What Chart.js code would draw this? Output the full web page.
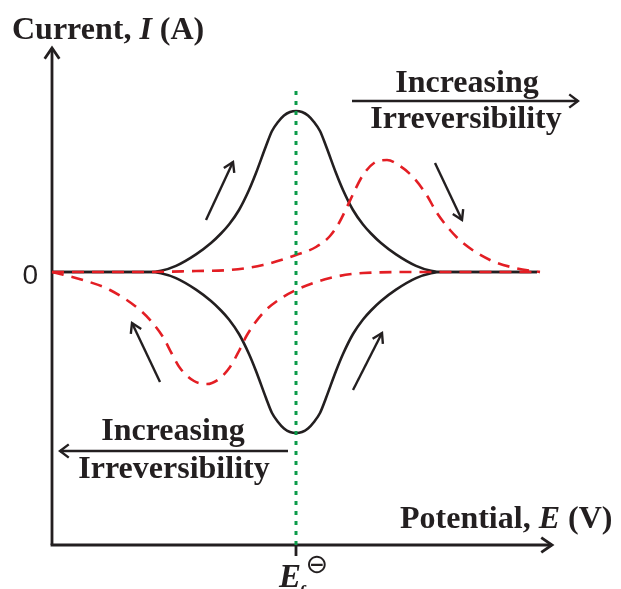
<!DOCTYPE html>
<html>
<head>
<meta charset="utf-8">
<script src="https://cdn.jsdelivr.net/npm/chart.js@4/dist/chart.umd.min.js"></script>
<style>
  html, body { margin: 0; padding: 0; background: #fff; }
  canvas { display: block; }
</style>
</head>
<body>
<canvas id="cv" width="621" height="589"></canvas>
<script>
// === Data (E relative to E_f, I in arbitrary units)
// reversible couple : solid black
const blackX    = [-2.44, -1.47, -1.35, -1.2, -1.0, -0.85, -0.75, -0.67, -0.57, -0.47, -0.4, -0.3, -0.24, -0.18, -0.12, -0.06, 0,
                   0.06, 0.12, 0.18, 0.24, 0.3, 0.4, 0.47, 0.57, 0.67, 0.75, 0.85, 1.0, 1.2, 1.35, 1.47, 2.41];
const blackUp   = [0, 0, 0.012, 0.061, 0.176, 0.29, 0.385, 0.475, 0.62, 0.82, 0.99, 1.26, 1.41, 1.50, 1.565, 1.60, 1.61,
                   1.60, 1.565, 1.50, 1.41, 1.26, 0.99, 0.82, 0.62, 0.475, 0.385, 0.29, 0.176, 0.061, 0.012, 0, 0];
const blackDown = [0, 0, -0.012, -0.061, -0.176, -0.29, -0.385, -0.475, -0.62, -0.82, -0.99, -1.26, -1.41, -1.50, -1.565, -1.60, -1.61,
                   -1.60, -1.565, -1.50, -1.41, -1.26, -0.99, -0.82, -0.62, -0.475, -0.385, -0.29, -0.176, -0.061, -0.012, 0, 0];

// irreversible couple : dashed red
const redUpX    = [-2.44, -1.5, -1.0, -0.66, -0.33, 0, 0.2, 0.34, 0.43, 0.51, 0.59, 0.67, 0.78, 0.91, 1.04, 1.17, 1.3, 1.41, 1.54, 1.67, 1.94, 2.19, 2.44];
const redUp     = [0, 0, 0.01, 0.02, 0.07, 0.17, 0.25, 0.36, 0.49, 0.65, 0.82, 0.97, 1.09, 1.12, 1.06, 0.95, 0.78, 0.59, 0.42, 0.29, 0.12, 0.04, 0];
const redDownX  = [-2.44, -2.13, -1.86, -1.56, -1.45, -1.33, -1.24, -1.16, -1.02, -0.89, -0.77, -0.66, -0.57, -0.49, -0.33, -0.16, 0, 0.34, 0.67, 1.2, 2.44];
const redDown   = [0, -0.08, -0.18, -0.38, -0.49, -0.65, -0.82, -0.96, -1.09, -1.12, -1.07, -0.95, -0.79, -0.63, -0.41, -0.27, -0.18, -0.06, -0.01, 0, 0];

// formal potential marker
const efX = [0, 0];
const efY = [-2.73, 1.82];

const INK = "#231f20";
const RED = "#e31e24";
const GREEN = "#0c9b4a";
const SERIF = '"Liberation Serif", "Times New Roman", serif';

const pts = (xs, ys) => xs.map((x, i) => ({ x, y: ys[i] }));

function head(ctx, x0, y0, x1, y1, len, ang) {
  const a = Math.atan2(y1 - y0, x1 - x0);
  ctx.beginPath();
  ctx.moveTo(x1 - len * Math.cos(a - ang), y1 - len * Math.sin(a - ang));
  ctx.lineTo(x1, y1);
  ctx.lineTo(x1 - len * Math.cos(a + ang), y1 - len * Math.sin(a + ang));
  ctx.stroke();
}

function arrow(ctx, x0, y0, x1, y1, len, ang) {
  ctx.beginPath();
  ctx.moveTo(x0, y0);
  ctx.lineTo(x1, y1);
  ctx.stroke();
  head(ctx, x0, y0, x1, y1, len, ang);
}

function rich(ctx, parts, x, y, size) {
  let cx = x;
  parts.forEach(p => {
    ctx.font = `${p.it ? "italic " : ""}bold ${size}px ${SERIF}`;
    ctx.fillText(p.t, cx, y);
    cx += ctx.measureText(p.t).width;
  });
}

const decor = {
  id: "decor",
  beforeDatasetsDraw(chart) {
    const { ctx, chartArea: a } = chart;
    ctx.save();
    ctx.strokeStyle = INK;
    ctx.lineWidth = 2.8;
    ctx.lineCap = "butt";
    ctx.lineJoin = "miter";
    // axes
    arrow(ctx, a.left, a.bottom, a.left, a.top, 13, 0.6);
    arrow(ctx, a.left - 1.4, a.bottom, a.right, a.bottom, 13, 0.6);
    // tick at E_f
    const xf = chart.scales.x.getPixelForValue(0);
    ctx.beginPath();
    ctx.moveTo(xf, a.bottom);
    ctx.lineTo(xf, a.bottom + 11);
    ctx.stroke();
    ctx.restore();
  },
  afterDraw(chart) {
    const { ctx } = chart;
    const sx = chart.scales.x, sy = chart.scales.y;
    const P = (x, y) => [sx.getPixelForValue(x), sy.getPixelForValue(y)];
    ctx.save();
    ctx.strokeStyle = INK;
    ctx.fillStyle = INK;
    ctx.lineWidth = 2.4;

    // scan direction arrows
    [
      [-0.90, 0.52, -0.63, 1.10],
      [-1.36, -1.10, -1.64, -0.51],
      [0.57, -1.18, 0.86, -0.61],
      [1.39, 1.09, 1.66, 0.52]
    ].forEach(([x0, y0, x1, y1]) => {
      const [a, b] = P(x0, y0), [c, d] = P(x1, y1);
      arrow(ctx, a, b, c, d, 11, 0.55);
    });

    // "Increasing Irreversibility" arrows
    ctx.lineWidth = 2.4;
    arrow(ctx, 352, 101, 578, 101, 11, 0.65);
    arrow(ctx, 288, 451, 60, 451, 11, 0.65);

    ctx.textAlign = "center";
    ctx.textBaseline = "alphabetic";
    ctx.font = `bold 32px ${SERIF}`;
    ctx.fillText("Increasing", 467, 92);
    ctx.fillText("Irreversibility", 466, 128);
    ctx.fillText("Increasing", 173, 440);
    ctx.fillText("Irreversibility", 174, 478);

    // axis titles
    ctx.textAlign = "left";
    rich(ctx, [{ t: "Current, " }, { t: "I", it: true }, { t: " (A)" }], 12, 39, 32);
    rich(ctx, [{ t: "Potential, " }, { t: "E", it: true }, { t: " (V)" }], 400, 528, 32);

    // zero label
    ctx.textAlign = "right";
    ctx.font = '28px "Liberation Sans", Arial, sans-serif';
    const [, y0] = P(0, 0);
    ctx.fillText("0", 38, y0 + 12);

    // E_f with plimsoll
    const [xf] = P(0, 0);
    ctx.textAlign = "left";
    ctx.font = `italic bold 33px ${SERIF}`;
    ctx.fillText("E", xf - 17, 587);
    ctx.font = `italic bold 18px ${SERIF}`;
    ctx.fillText("f", xf + 3, 598);
    ctx.textAlign = "center";
    ctx.textBaseline = "middle";
    ctx.font = '27px "DejaVu Sans", sans-serif';
    ctx.fillText("\u2296", xf + 21, 566);
    ctx.restore();
  }
};

const line = (data, color, extra) => Object.assign({
  data,
  borderColor: color,
  borderWidth: 2.6,
  pointRadius: 0,
  fill: false,
  clip: false,
  cubicInterpolationMode: "monotone"
}, extra);

new Chart(document.getElementById("cv"), {
  type: "line",
  data: {
    datasets: [
      line(pts(efX, efY), GREEN, { borderWidth: 3, borderDash: [4, 6], order: 0, cubicInterpolationMode: "default" }),
      line(pts(redUpX, redUp), RED, { borderDash: [12, 8], order: 1 }),
      line(pts(redDownX, redDown), RED, { borderDash: [12, 8], order: 1 }),
      line(pts(blackX, blackUp), INK, { order: 2 }),
      line(pts(blackX, blackDown), INK, { order: 2 })
    ]
  },
  options: {
    responsive: false,
    animation: false,
    devicePixelRatio: 1,
    events: [],
    layout: { padding: { left: 52, right: 69, top: 48, bottom: 44 } },
    plugins: { legend: { display: false }, tooltip: { enabled: false } },
    scales: {
      x: { type: "linear", min: -2.44, max: 2.56, display: false },
      y: { type: "linear", min: -2.73, max: 2.24, display: false }
    }
  },
  plugins: [decor]
});
</script>
</body>
</html>
